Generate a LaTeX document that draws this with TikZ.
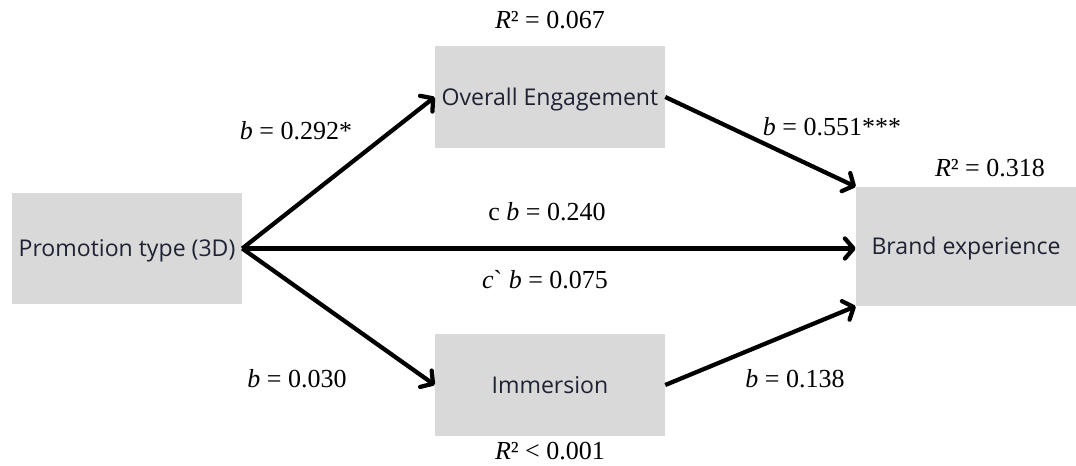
\documentclass[tikz,border=0pt]{standalone}
\usepackage{fontspec}
\setmainfont{Liberation Serif}
\newfontfamily\rawserif[Ligatures=ResetAll]{Liberation Serif}
\newfontfamily\boxfont{Open Sans}
\usetikzlibrary{arrows.meta}
\definecolor{boxgray}{HTML}{D9D9D9}
\definecolor{boxtext}{HTML}{1E2233}
\tikzset{
  varbox/.style={fill=boxgray, draw=none, inner sep=0pt, text=boxtext,
    font=\boxfont\fontsize{17.3}{20}\selectfont, align=center,
    text height=12.3pt, text depth=-2.5pt},
  lbl/.style={font=\fontsize{19.5}{23}\selectfont, inner sep=0pt, text=black},
  path/.style={line width=3.2pt, line join=round,
    -{Straight Barb[length=6.5pt,width=15pt,round]}}
}
\begin{document}
\begin{tikzpicture}[x=0.75pt,y=-0.75pt]
\useasboundingbox (0,0) rectangle (1076,466);
\node[varbox, minimum width=172.5pt, minimum height=83.25pt] (prom) at (127,248.5) {Promotion type (3D)};
\node[varbox, minimum width=172.5pt, minimum height=76.5pt] (eng) at (550,97) {Overall Engagement};
\node[varbox, minimum width=172.5pt, minimum height=76.5pt] (imm) at (550,385) {Immersion};
\node[varbox, minimum width=165pt, minimum height=89.25pt] (brand) at (966,246.5) {Brand experience};

\draw[path] (prom.east) -- (eng.west);
\draw[path] (prom.east) -- (imm.west);
\draw[path] (prom.east) -- (prom.east -| brand.west);
\draw[path] (eng.east) -- (brand.north west);
\draw[path] (imm.east) -- (brand.south west);

\node[lbl] (r1) at (550,20) {\textit{R}² = 0.067};
\node[lbl] (r2) at (990,168) {\textit{R}² = 0.318};
\node[lbl] (r3) at (550,451) {\textit{R}² < 0.001};
\node[lbl] (l1) at (296,131) {\textit{b} = 0.292*};
\node[lbl] (l2) at (832,127) {\textit{b} = 0.551***};
\node[lbl] (l3) at (547,212) {c \textit{b} = 0.240};
\node[lbl] (l4) at (545,280) {{\rawserif\itshape c}{\rawserif\char96} \textit{b} = 0.075};
\node[lbl] (l5) at (297,379) {\textit{b} = 0.030};
\node[lbl] (l6) at (795,379) {\textit{b} = 0.138};
\end{tikzpicture}
\end{document}
